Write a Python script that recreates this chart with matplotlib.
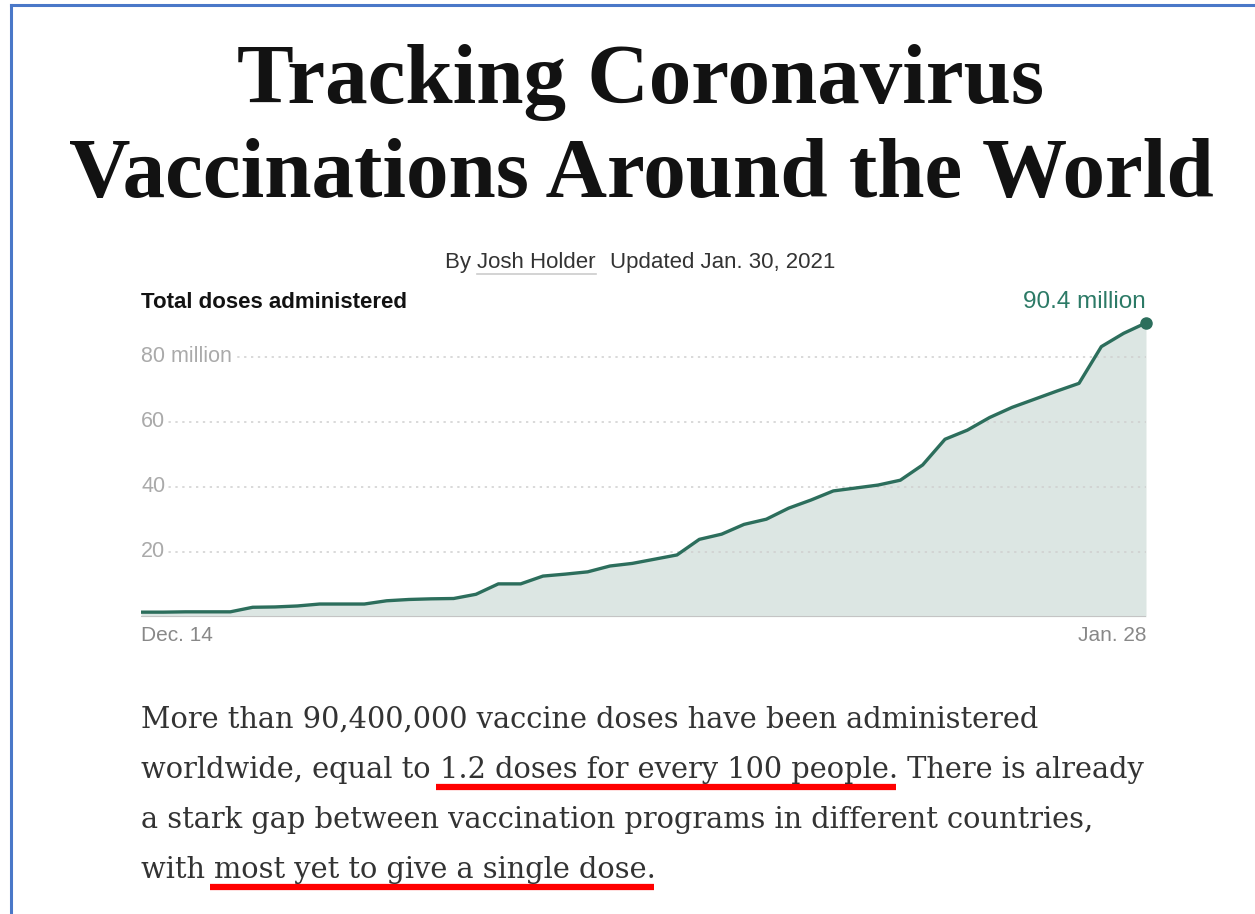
import matplotlib
matplotlib.use("Agg")
import matplotlib.pyplot as plt
from matplotlib.lines import Line2D

# total doses administered worldwide, millions, daily from Dec. 14 to Jan. 28
days = list(range(46))
doses = [1.4, 1.4, 1.5, 1.5, 1.5, 2.9, 3.0, 3.3, 3.9, 3.9,
         3.9, 4.9, 5.3, 5.5, 5.6, 6.9, 10.1, 10.1, 12.5, 13.1,
         13.8, 15.6, 16.4, 17.7, 19.0, 23.8, 25.4, 28.4, 30.0, 33.4,
         35.9, 38.7, 39.6, 40.5, 42.0, 46.7, 54.6, 57.4, 61.3, 64.4,
         66.9, 69.4, 71.8, 83.1, 87.2, 90.4]
grid_vals = [20, 40, 60, 80]
grid_labels = ["20", "40", "60", "80 million"]
date_labels = ["Dec. 14", "Jan. 28"]

title_lines = ["Tracking Coronavirus", "Vaccinations Around the World"]
body = [
    [("More than 90,400,000 vaccine doses have been administered", False)],
    [("worldwide, equal to ", False), ("1.2 doses for every 100 people.", True), (" There is already", False)],
    [("a stark gap between vaccination programs in different countries,", False)],
    [("with ", False), ("most yet to give a single dose.", True)],
]

W, H = 1255, 914
fig = plt.figure(figsize=(W / 100, H / 100), dpi=100)
fig.patch.set_facecolor("white")
renderer = fig.canvas.get_renderer()

def fy(py):
    return 1 - py / H

def fx(px):
    return px / W

def fit_size(txt, target_w, **kw):
    t = fig.text(0, 0, txt, fontsize=50, **kw)
    w = t.get_window_extent(renderer).width
    t.remove()
    return 50 * target_w / w

# blue screenshot border
fig.add_artist(Line2D([fx(11), fx(11)], [fy(5), 0], color="#4a78c8", lw=2.2))
fig.add_artist(Line2D([fx(11), 1], [fy(5), fy(5)], color="#4a78c8", lw=2.2))

# headline
tfam = "Liberation Serif"
ts = fit_size(title_lines[1], 1147, family=tfam, weight="bold")
fig.text(fx(641), fy(103), title_lines[0], family=tfam, weight="bold", fontsize=ts,
         ha="center", va="baseline", color="#121212")
fig.text(fx(641), fy(197), title_lines[1], family=tfam, weight="bold", fontsize=ts,
         ha="center", va="baseline", color="#121212")

# byline
sfam = "Liberation Sans"
bys = 16
b1 = fig.text(fx(445), fy(268), "By ", family=sfam, fontsize=bys, color="#333333", va="baseline")
e = b1.get_window_extent(renderer)
b2 = fig.text(e.x1 / W, fy(268), "Josh Holder", family=sfam, fontsize=bys, color="#333333", va="baseline")
e2 = b2.get_window_extent(renderer)
fig.add_artist(Line2D([e2.x0 / W, e2.x1 / W], [fy(274), fy(274)], color="#cccccc", lw=1.2))
fig.text(e2.x1 / W + fx(14), fy(268), "Updated Jan. 30, 2021", family=sfam, fontsize=bys,
         color="#333333", va="baseline")

# chart
x0, x1 = 141, 1146
y_zero, y_top = 616.7, 316
ppu = 65 / 20
ax = fig.add_axes([fx(x0), fy(y_zero), (x1 - x0) / W, (y_zero - y_top) / H])
ax.set_xlim(0, days[-1])
ax.set_ylim(0, (y_zero - y_top) / ppu)
ax.axis("off")

ax.fill_between(days, doses, 0, color="#dce6e3", lw=0, zorder=1)
for v, lab in zip(grid_vals, grid_labels):
    ax.axhline(v, color="#cfcfcf", lw=1.1, ls=(0, (1.5, 3)), zorder=2)
    ax.text(0, v, lab, fontsize=15.5, family=sfam, color="#aaaaaa", ha="left", va="center",
            zorder=3, bbox=dict(facecolor="white", edgecolor="none", pad=2))
ax.plot(days, doses, color="#2c6e5c", lw=2.4, zorder=4, solid_joinstyle="round")
ax.plot(days[-1], doses[-1], "o", color="#2c6e5c", ms=8, zorder=5, clip_on=False)
ax.axhline(0, color="#c4c4c4", lw=2.2, zorder=4)

fig.text(fx(141), fy(308), "Total doses administered", family=sfam, weight="bold",
         fontsize=16, color="#121212", va="baseline")
fig.text(fx(1146), fy(308), f"{doses[-1]} million", family=sfam, fontsize=17.5,
         color="#2c7a66", ha="right", va="baseline")
fig.text(fx(141), fy(641), date_labels[0], family=sfam, fontsize=15, color="#888888", va="baseline")
fig.text(fx(1146), fy(641), date_labels[1], family=sfam, fontsize=15, color="#888888",
         ha="right", va="baseline")

# body text with red underlines
bfam = "DejaVu Serif"
bs = fit_size(body[0][0][0], 902, family=bfam)
baselines = [728, 778, 828, 878]
for line, base in zip(body, baselines):
    px = 141
    for piece, under in line:
        t = fig.text(fx(px), fy(base), piece, family=bfam, fontsize=bs, color="#333333", va="baseline")
        ext = t.get_window_extent(renderer)
        if under:
            fig.add_artist(Line2D([(ext.x0 - 4) / W, (ext.x1 - 2) / W], [fy(base + 9), fy(base + 9)],
                                  color="#ff0000", lw=4.5, solid_capstyle="butt"))
        px = ext.x1

fig.savefig("out.png", dpi=100, facecolor="white")
